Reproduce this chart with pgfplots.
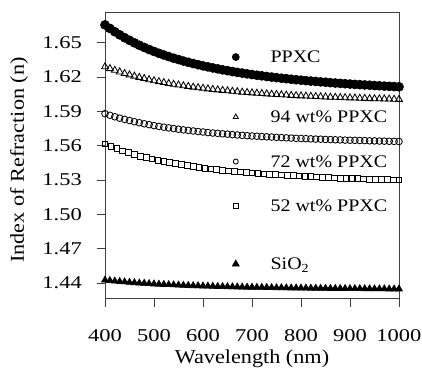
\documentclass[border=0pt]{standalone}
\usepackage{fontspec}
\setmainfont{Liberation Serif}[FakeStretch=1.13]
\newfontfamily\tickfont{Liberation Serif}[FakeStretch=1.25]
\usepackage{pgfplots}
\usepackage{pgfplotstable}
\pgfplotsset{compat=1.18}

\pgfplotstableread{
lam ppxc w94 w72 sio2
400 1.6656 1.6290 1.5880 1.4426
410 1.6625 1.6274 1.5866 1.4421
420 1.6596 1.6259 1.5853 1.4417
430 1.6569 1.6245 1.5841 1.4413
440 1.6544 1.6231 1.5830 1.4410
450 1.6521 1.6219 1.5820 1.4406
460 1.6499 1.6208 1.5810 1.4403
470 1.6478 1.6197 1.5801 1.4400
480 1.6459 1.6187 1.5792 1.4398
490 1.6441 1.6177 1.5784 1.4395
500 1.6424 1.6168 1.5776 1.4392
510 1.6408 1.6160 1.5769 1.4390
520 1.6393 1.6152 1.5762 1.4388
530 1.6379 1.6144 1.5756 1.4386
540 1.6365 1.6137 1.5750 1.4384
550 1.6353 1.6131 1.5744 1.4382
560 1.6340 1.6124 1.5739 1.4380
570 1.6329 1.6118 1.5734 1.4379
580 1.6318 1.6112 1.5729 1.4377
590 1.6308 1.6107 1.5724 1.4376
600 1.6298 1.6102 1.5720 1.4374
610 1.6289 1.6097 1.5715 1.4373
620 1.6280 1.6092 1.5711 1.4372
630 1.6272 1.6088 1.5708 1.4370
640 1.6263 1.6084 1.5704 1.4369
650 1.6256 1.6080 1.5701 1.4368
660 1.6248 1.6076 1.5697 1.4367
670 1.6241 1.6072 1.5694 1.4366
680 1.6235 1.6068 1.5691 1.4365
690 1.6228 1.6065 1.5688 1.4364
700 1.6222 1.6062 1.5685 1.4363
710 1.6216 1.6059 1.5683 1.4362
720 1.6211 1.6056 1.5680 1.4362
730 1.6205 1.6053 1.5678 1.4361
740 1.6200 1.6050 1.5676 1.4360
750 1.6195 1.6048 1.5673 1.4359
760 1.6190 1.6045 1.5671 1.4359
770 1.6186 1.6043 1.5669 1.4358
780 1.6181 1.6040 1.5667 1.4357
790 1.6177 1.6038 1.5665 1.4357
800 1.6173 1.6036 1.5663 1.4356
810 1.6169 1.6034 1.5662 1.4356
820 1.6165 1.6032 1.5660 1.4355
830 1.6162 1.6030 1.5658 1.4355
840 1.6158 1.6028 1.5657 1.4354
850 1.6155 1.6026 1.5655 1.4354
860 1.6151 1.6024 1.5654 1.4353
870 1.6148 1.6023 1.5652 1.4353
880 1.6145 1.6021 1.5651 1.4352
890 1.6142 1.6020 1.5649 1.4352
900 1.6139 1.6018 1.5648 1.4351
910 1.6136 1.6017 1.5647 1.4351
920 1.6134 1.6015 1.5646 1.4351
930 1.6131 1.6014 1.5645 1.4350
940 1.6129 1.6012 1.5643 1.4350
950 1.6126 1.6011 1.5642 1.4349
960 1.6124 1.6010 1.5641 1.4349
970 1.6121 1.6009 1.5640 1.4349
980 1.6119 1.6008 1.5639 1.4348
990 1.6117 1.6006 1.5638 1.4348
1000 1.6115 1.6005 1.5637 1.4348
}\mainTable

\pgfplotstableread{
lam w52
400 1.5615
412 1.5593
424 1.5574
436 1.5556
448 1.5539
460 1.5524
472 1.5509
484 1.5496
496 1.5484
508 1.5473
520 1.5462
532 1.5452
544 1.5443
556 1.5434
568 1.5426
580 1.5418
592 1.5411
604 1.5404
616 1.5398
628 1.5392
640 1.5386
652 1.5381
664 1.5376
676 1.5371
688 1.5367
700 1.5362
712 1.5358
724 1.5354
736 1.5351
748 1.5347
760 1.5344
772 1.5341
784 1.5338
796 1.5335
808 1.5332
820 1.5329
832 1.5327
844 1.5324
856 1.5322
868 1.5320
880 1.5317
892 1.5315
904 1.5313
916 1.5312
928 1.5310
940 1.5308
952 1.5306
964 1.5305
976 1.5303
988 1.5301
1000 1.5300
}\fiftyTable

\begin{document}
\begin{tikzpicture}
\begin{axis}[
  name=main,
  at={(0,0)}, anchor=south west,
  scale only axis,
  width=176.4pt, height=171.3pt,
  xmin=400, xmax=1000,
  ymin=1.4265, ymax=1.676,
  xtick={400,500,...,1000},
  ytick={1.44,1.47,1.50,1.53,1.56,1.59,1.62,1.65},
  tick pos=left,
  tick align=outside,
  major tick length=5pt,
  axis line style={black!75, line width=0.6pt},
  tick style={black!75, line width=0.6pt},
  clip=false,
  /pgf/number format/assume math mode=true,
  ticklabel style={font=\tickfont\fontsize{10.8}{12}\selectfont},
  yticklabel style={xshift=-5.4pt, /pgf/number format/.cd, fixed, fixed zerofill, precision=2},
  xticklabel style={yshift=-10.3pt, /pgf/number format/.cd, set thousands separator={}},
  label style={font=\fontsize{11.8}{14}\selectfont},
  xlabel={Wavelength (nm)},
  ylabel={Index of Refraction (n)},
  xlabel style={at={(axis description cs:0.5,0)}, anchor=center, yshift=-36.4pt},
  ylabel style={at={(axis description cs:-0.2925,0.485)}, anchor=center},
  legend style={
    at={(axis description cs:0.433,0.935)}, anchor=north west,
    draw=none, fill=none, inner sep=0pt, outer sep=0pt,
    row sep=14.7pt, column sep=18.8pt,
    nodes={inner sep=0pt, text depth={}},
    font=\fontsize{10.6}{12}\selectfont,
  },
  legend cell align=left,
]
\addplot[only marks, mark=*, mark size=2.7pt, black, mark options={fill=black},
  legend image code/.code={\draw[black] plot[mark=*, mark size=2.1pt, mark options={fill=black}] coordinates {(0pt,0pt)};}]
  table[x=lam, y=ppxc] {\mainTable};
\addlegendentry{\rule[-11.8pt]{0pt}{30.6pt}PPXC}
\addplot[only marks, mark=triangle, mark size=2.4pt, black, mark options={line width=0.5pt, fill=white},
  legend image code/.code={\draw[black] plot[mark=triangle, mark size=1.8pt, mark options={line width=0.5pt}] coordinates {(0pt,0pt)};}]
  table[x=lam, y=w94] {\mainTable};
\addlegendentry{\rule[-2.5pt]{0pt}{12pt}94 wt\% PPXC}
\addplot[only marks, mark=o, mark size=2.0pt, black, mark options={line width=0.5pt, fill=white},
  legend image code/.code={\draw[black] plot[mark=o, mark size=1.5pt, mark options={line width=0.5pt}] coordinates {(0pt,0pt)};}]
  table[x=lam, y=w72] {\mainTable};
\addlegendentry{\rule[-2.5pt]{0pt}{12pt}72 wt\% PPXC}
\addplot[only marks, mark=square, mark size=1.7pt, black, mark options={line width=0.5pt, fill=white},
  legend image code/.code={\draw[black] plot[mark=square, mark size=1.5pt, mark options={line width=0.5pt}] coordinates {(0pt,0pt)};}]
  table[x=lam, y=w52] {\fiftyTable};
\addlegendentry{\rule[-2.5pt]{0pt}{12pt}52 wt\% PPXC}
\addplot[only marks, mark=triangle*, mark size=2.4pt, black, mark options={fill=black},
  legend image code/.code={\draw[black] plot[mark=triangle*, mark size=2.4pt, mark options={fill=black}] coordinates {(0pt,0pt)};}]
  table[x=lam, y=sio2] {\mainTable};
\addlegendentry{\rule[-10.6pt]{0pt}{28.2pt}SiO\textsubscript{2}}
\end{axis}
\pgfresetboundingbox
\path ([xshift=-63pt,yshift=-47.1pt]main.south west) rectangle ([xshift=13.8pt,yshift=7.8pt]main.north east);
\end{tikzpicture}
\end{document}
